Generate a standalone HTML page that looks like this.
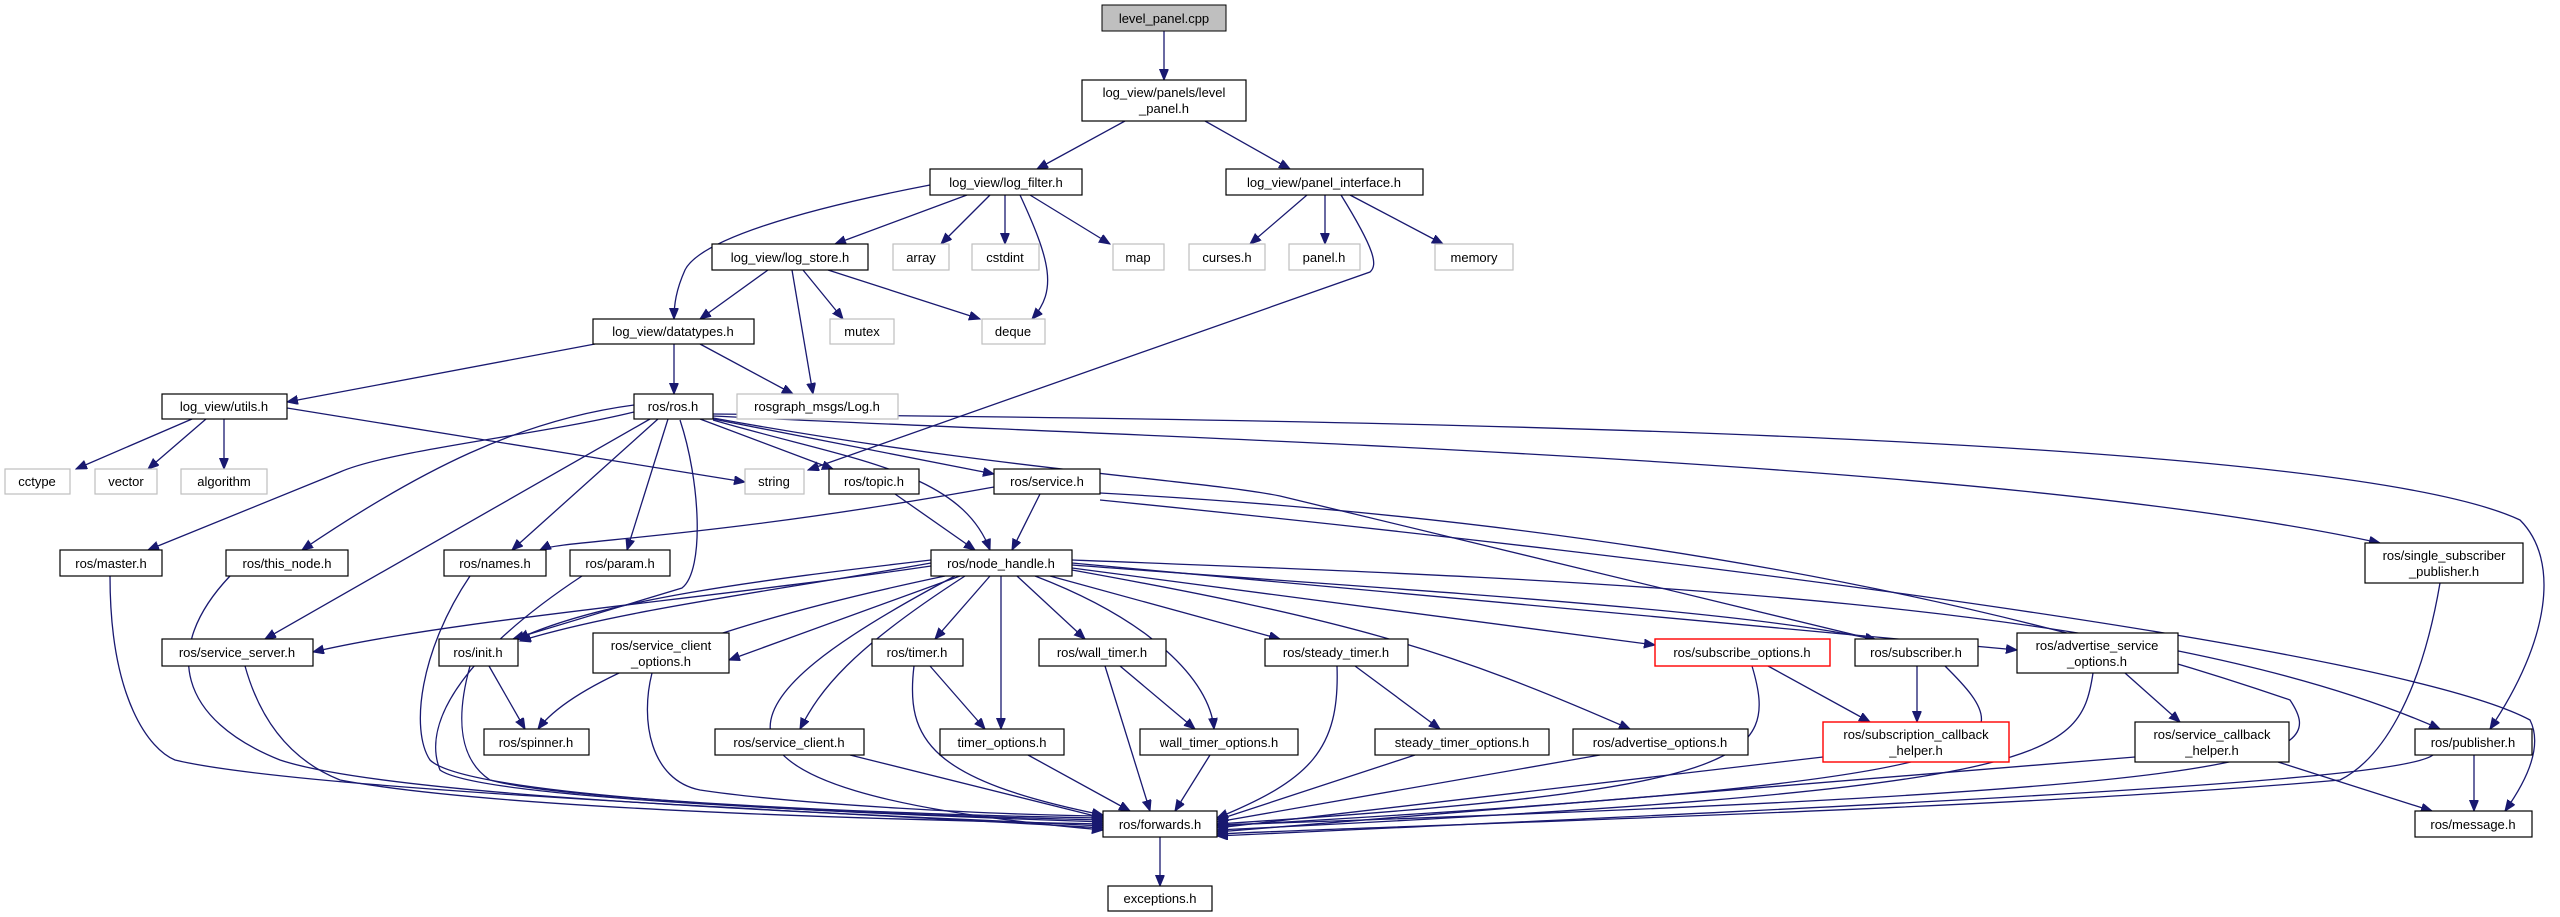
<!DOCTYPE html>
<html><head><meta charset="utf-8"><style>
html,body{margin:0;padding:0;background:#fff;}
svg{display:block}
text{font-family:"Liberation Sans",sans-serif;font-size:13px;fill:#000}
.e{fill:none;stroke:#191970;stroke-width:1.3}
.n{fill:#fff;stroke:#000;stroke-width:1.2}
.g{fill:#fff;stroke:#bfbfbf;stroke-width:1.2}
.r{fill:#fff;stroke:#ff0000;stroke-width:1.4}
</style></head><body>
<svg width="2560" height="917" viewBox="0 0 2560 917" xmlns="http://www.w3.org/2000/svg">
<defs><marker id="a" markerUnits="userSpaceOnUse" markerWidth="12" markerHeight="10" refX="11" refY="4.5" orient="auto"><path d="M0,0 L11,4.5 L0,9 z" fill="#191970" stroke="#191970"/></marker></defs>
<g class="e" marker-end="url(#a)">
<path d="M1164,31 L1164,80"/>
<path d="M1125,121 L1037,169"/>
<path d="M1205,121 L1290,169"/>
<path d="M930,185 C800,210 700,240 685,270 C676,290 674,305 674,319"/>
<path d="M967,195 L835,244"/>
<path d="M990,195 L941,244"/>
<path d="M1005,195 L1005,244"/>
<path d="M1030,195 L1110,244"/>
<path d="M1020,195 C1050,260 1058,290 1032,319"/>
<path d="M1307,195 L1250,244"/>
<path d="M1325,195 L1325,244"/>
<path d="M1350,195 L1443,244"/>
<path d="M1341,195 C1375,250 1378,265 1370,272 L808,470"/>
<path d="M768,270 L700,319"/>
<path d="M792,270 L813,394"/>
<path d="M803,270 L843,319"/>
<path d="M828,270 L980,319"/>
<path d="M595,344 L287,402"/>
<path d="M674,344 L674,394"/>
<path d="M700,344 L793,394"/>
<path d="M192,419 L76,469"/>
<path d="M206,419 L148,469"/>
<path d="M224,419 L224,469"/>
<path d="M287,408 L745,482"/>
<path d="M634,412 C540,435 390,450 340,472 L148,550"/>
<path d="M634,405 C520,420 420,470 302,550"/>
<path d="M650,419 L265,639"/>
<path d="M658,419 L512,550"/>
<path d="M668,419 L627,550"/>
<path d="M680,420 C700,480 705,570 682,588 L513,639"/>
<path d="M700,419 L833,469"/>
<path d="M713,419 L994,474"/>
<path d="M713,420 C850,460 960,470 990,550"/>
<path d="M713,418 C1000,470 1200,480 1280,496 L1876,640"/>
<path d="M713,416 C1200,440 2000,460 2380,543"/>
<path d="M713,414 C1500,420 2350,440 2520,520 C2560,560 2550,640 2490,729"/>
<path d="M1100,500 C1700,560 2400,650 2530,720 C2545,750 2520,790 2505,811"/>
<path d="M994,487 C700,540 560,540 540,550"/>
<path d="M1040,494 L1012,550"/>
<path d="M1100,493 C1600,520 2000,600 2290,700 C2330,760 2290,790 1217,825"/>
<path d="M895,494 L975,550"/>
<path d="M931,566 C700,600 450,620 313,652"/>
<path d="M931,560 C760,580 600,600 518,639"/>
<path d="M931,563 C780,590 620,610 520,641"/>
<path d="M945,576 C640,640 560,700 538,729"/>
<path d="M960,576 L729,660"/>
<path d="M955,576 C720,700 650,790 1103,830"/>
<path d="M965,576 C850,650 820,690 800,729"/>
<path d="M990,576 L935,639"/>
<path d="M1001,576 L1001,729"/>
<path d="M1017,576 L1085,639"/>
<path d="M1035,576 C1150,620 1210,680 1214,729"/>
<path d="M1050,576 L1280,639"/>
<path d="M1072,570 C1350,620 1450,650 1630,729"/>
<path d="M1072,568 L1655,645"/>
<path d="M1072,565 C1400,590 1750,610 1876,640"/>
<path d="M1072,563 L2017,650"/>
<path d="M1072,560 C1600,580 2150,600 2440,729"/>
<path d="M110,576 C110,700 150,750 175,760 C300,790 800,810 1103,828"/>
<path d="M230,576 C160,650 180,720 280,760 C400,800 900,815 1103,826"/>
<path d="M245,666 C260,720 290,760 340,780 C500,810 900,820 1103,824"/>
<path d="M470,576 C420,650 410,730 430,760 C470,800 900,815 1103,822"/>
<path d="M582,576 C470,650 420,720 440,770 C480,800 900,815 1103,820"/>
<path d="M470,666 C455,720 460,760 490,780 C560,800 900,815 1103,818"/>
<path d="M489,666 L525,729"/>
<path d="M652,673 C640,720 650,780 700,790 C800,805 1000,815 1103,816"/>
<path d="M850,755 L1103,818"/>
<path d="M914,666 C905,740 930,780 1103,815"/>
<path d="M930,666 L985,729"/>
<path d="M1028,755 L1130,811"/>
<path d="M1105,666 L1150,811"/>
<path d="M1120,666 L1195,729"/>
<path d="M1210,755 L1175,811"/>
<path d="M1337,666 C1340,750 1310,780 1217,818"/>
<path d="M1355,666 L1440,729"/>
<path d="M1415,755 L1217,820"/>
<path d="M1600,755 L1217,822"/>
<path d="M1752,666 C1780,760 1750,790 1217,824"/>
<path d="M1768,666 L1870,722"/>
<path d="M1917,666 L1917,722"/>
<path d="M1945,666 C2030,750 2030,780 1217,826"/>
<path d="M1823,757 L1217,828"/>
<path d="M2093,673 C2080,760 2050,790 1217,830"/>
<path d="M2125,673 L2180,722"/>
<path d="M2135,757 L1217,832"/>
<path d="M2278,762 L2432,811"/>
<path d="M2440,583 C2420,700 2380,760 2340,780 C2000,810 1400,825 1217,834"/>
<path d="M2433,755 C2400,780 2000,800 1217,836"/>
<path d="M2474,755 L2474,811"/>
<path d="M1160,837 L1160,886"/>
</g>
<g>
<rect x="1102" y="5" width="124" height="26" fill="#bfbfbf" stroke="#000"/><text x="1164" y="23" text-anchor="middle">level_panel.cpp</text>
<rect class="n" x="1082" y="80" width="164" height="41"/><text x="1164" y="97" text-anchor="middle">log_view/panels/level</text><text x="1164" y="113" text-anchor="middle">_panel.h</text>
<rect class="n" x="930" y="169" width="152" height="26"/><text x="1006" y="187" text-anchor="middle">log_view/log_filter.h</text>
<rect class="n" x="1226" y="169" width="197" height="26"/><text x="1324" y="187" text-anchor="middle">log_view/panel_interface.h</text>
<rect class="n" x="712" y="244" width="156" height="26"/><text x="790" y="262" text-anchor="middle">log_view/log_store.h</text>
<rect class="g" x="893" y="244" width="56" height="26"/><text x="921" y="262" text-anchor="middle">array</text>
<rect class="g" x="972" y="244" width="67" height="26"/><text x="1005" y="262" text-anchor="middle">cstdint</text>
<rect class="g" x="1113" y="244" width="51" height="26"/><text x="1138" y="262" text-anchor="middle">map</text>
<rect class="g" x="1189" y="244" width="76" height="26"/><text x="1227" y="262" text-anchor="middle">curses.h</text>
<rect class="g" x="1289" y="244" width="71" height="26"/><text x="1324" y="262" text-anchor="middle">panel.h</text>
<rect class="g" x="1435" y="244" width="78" height="26"/><text x="1474" y="262" text-anchor="middle">memory</text>
<rect class="n" x="593" y="319" width="161" height="25"/><text x="673" y="336" text-anchor="middle">log_view/datatypes.h</text>
<rect class="g" x="830" y="319" width="64" height="25"/><text x="862" y="336" text-anchor="middle">mutex</text>
<rect class="g" x="982" y="319" width="63" height="25"/><text x="1013" y="336" text-anchor="middle">deque</text>
<rect class="n" x="162" y="394" width="125" height="25"/><text x="224" y="411" text-anchor="middle">log_view/utils.h</text>
<rect class="n" x="634" y="394" width="79" height="25"/><text x="673" y="411" text-anchor="middle">ros/ros.h</text>
<rect class="g" x="737" y="394" width="161" height="25"/><text x="817" y="411" text-anchor="middle">rosgraph_msgs/Log.h</text>
<rect class="g" x="5" y="469" width="65" height="25"/><text x="37" y="486" text-anchor="middle">cctype</text>
<rect class="g" x="95" y="469" width="62" height="25"/><text x="126" y="486" text-anchor="middle">vector</text>
<rect class="g" x="181" y="469" width="86" height="25"/><text x="224" y="486" text-anchor="middle">algorithm</text>
<rect class="g" x="745" y="469" width="59" height="25"/><text x="774" y="486" text-anchor="middle">string</text>
<rect class="n" x="829" y="469" width="90" height="25"/><text x="874" y="486" text-anchor="middle">ros/topic.h</text>
<rect class="n" x="994" y="469" width="106" height="25"/><text x="1047" y="486" text-anchor="middle">ros/service.h</text>
<rect class="n" x="60" y="550" width="102" height="26"/><text x="111" y="568" text-anchor="middle">ros/master.h</text>
<rect class="n" x="226" y="550" width="122" height="26"/><text x="287" y="568" text-anchor="middle">ros/this_node.h</text>
<rect class="n" x="444" y="550" width="102" height="26"/><text x="495" y="568" text-anchor="middle">ros/names.h</text>
<rect class="n" x="570" y="550" width="100" height="26"/><text x="620" y="568" text-anchor="middle">ros/param.h</text>
<rect class="n" x="931" y="550" width="141" height="26"/><text x="1001" y="568" text-anchor="middle">ros/node_handle.h</text>
<rect class="n" x="2365" y="543" width="158" height="40"/><text x="2444" y="560" text-anchor="middle">ros/single_subscriber</text><text x="2444" y="576" text-anchor="middle">_publisher.h</text>
<rect class="n" x="162" y="639" width="151" height="27"/><text x="237" y="657" text-anchor="middle">ros/service_server.h</text>
<rect class="n" x="439" y="639" width="79" height="27"/><text x="478" y="657" text-anchor="middle">ros/init.h</text>
<rect class="n" x="593" y="633" width="136" height="40"/><text x="661" y="650" text-anchor="middle">ros/service_client</text><text x="661" y="666" text-anchor="middle">_options.h</text>
<rect class="n" x="872" y="639" width="91" height="27"/><text x="917" y="657" text-anchor="middle">ros/timer.h</text>
<rect class="n" x="1039" y="639" width="127" height="27"/><text x="1102" y="657" text-anchor="middle">ros/wall_timer.h</text>
<rect class="n" x="1265" y="639" width="143" height="27"/><text x="1336" y="657" text-anchor="middle">ros/steady_timer.h</text>
<rect class="r" x="1655" y="639" width="175" height="27"/><text x="1742" y="657" text-anchor="middle">ros/subscribe_options.h</text>
<rect class="n" x="1855" y="639" width="123" height="27"/><text x="1916" y="657" text-anchor="middle">ros/subscriber.h</text>
<rect class="n" x="2017" y="633" width="161" height="40"/><text x="2097" y="650" text-anchor="middle">ros/advertise_service</text><text x="2097" y="666" text-anchor="middle">_options.h</text>
<rect class="n" x="484" y="729" width="105" height="26"/><text x="536" y="747" text-anchor="middle">ros/spinner.h</text>
<rect class="n" x="715" y="729" width="149" height="26"/><text x="789" y="747" text-anchor="middle">ros/service_client.h</text>
<rect class="n" x="940" y="729" width="124" height="26"/><text x="1002" y="747" text-anchor="middle">timer_options.h</text>
<rect class="n" x="1140" y="729" width="158" height="26"/><text x="1219" y="747" text-anchor="middle">wall_timer_options.h</text>
<rect class="n" x="1375" y="729" width="174" height="26"/><text x="1462" y="747" text-anchor="middle">steady_timer_options.h</text>
<rect class="n" x="1573" y="729" width="175" height="26"/><text x="1660" y="747" text-anchor="middle">ros/advertise_options.h</text>
<rect class="r" x="1823" y="722" width="186" height="40"/><text x="1916" y="739" text-anchor="middle">ros/subscription_callback</text><text x="1916" y="755" text-anchor="middle">_helper.h</text>
<rect class="n" x="2135" y="722" width="154" height="40"/><text x="2212" y="739" text-anchor="middle">ros/service_callback</text><text x="2212" y="755" text-anchor="middle">_helper.h</text>
<rect class="n" x="2415" y="729" width="117" height="26"/><text x="2473" y="747" text-anchor="middle">ros/publisher.h</text>
<rect class="n" x="1103" y="811" width="114" height="26"/><text x="1160" y="829" text-anchor="middle">ros/forwards.h</text>
<rect class="n" x="2415" y="811" width="117" height="26"/><text x="2473" y="829" text-anchor="middle">ros/message.h</text>
<rect class="n" x="1108" y="886" width="104" height="25"/><text x="1160" y="903" text-anchor="middle">exceptions.h</text>
</g>
</svg>
</body></html>
